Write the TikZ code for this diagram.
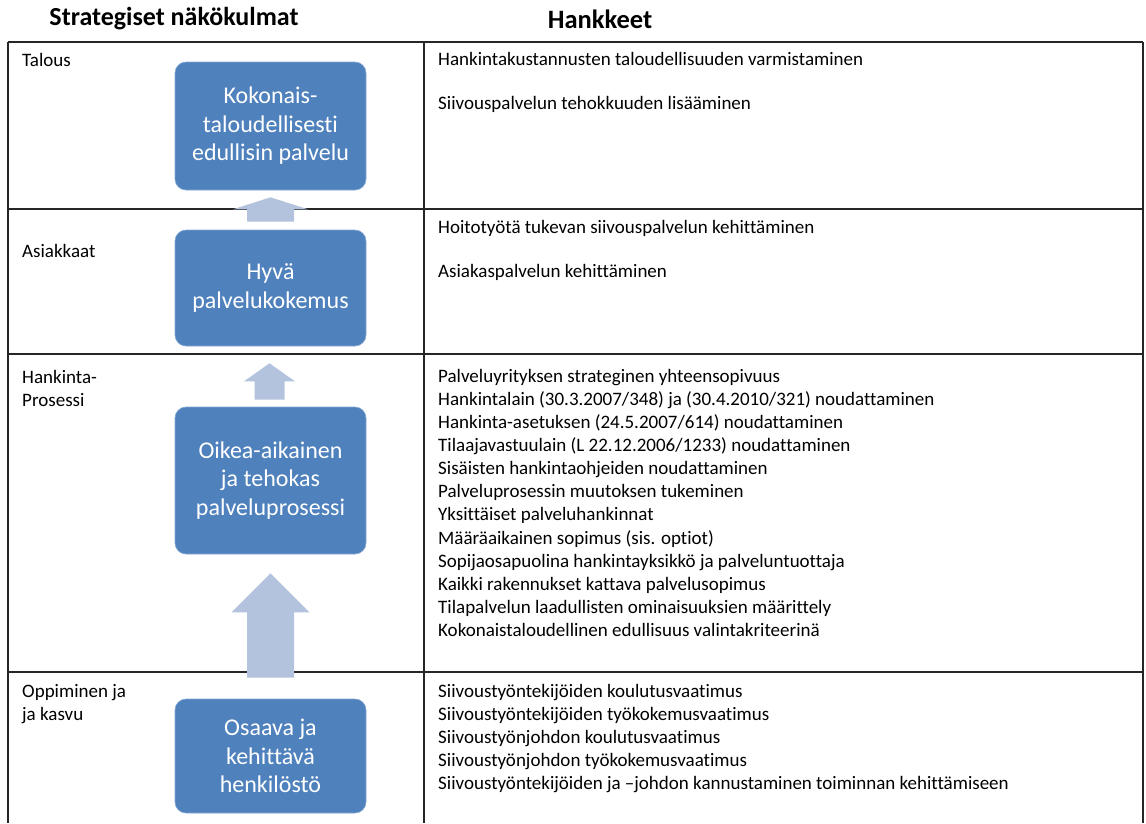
\documentclass[tikz,border=0pt]{standalone}
\usepackage{fontspec}
\setmainfont{Carlito}[Ligatures={NoCommon}]
\usetikzlibrary{calc}
\definecolor{boxblue}{HTML}{4F81BD}
\definecolor{liftblue}{HTML}{B3C3DD}

% upward block arrow: tip coordinate, bottom coordinate, head length, half head width, half shaft width
\newcommand\liftarrow[5]{%
  \fill[liftblue] let \p1=(#1), \p2=(#2) in
    (\x1,\y1) -- (\x1+#4pt,\y1-#3pt) -- (\x1+#5pt,\y1-#3pt) -- (\x1+#5pt,\y2)
    -- (\x1-#5pt,\y2) -- (\x1-#5pt,\y1-#3pt) -- (\x1-#4pt,\y1-#3pt) -- cycle;}

\begin{document}
\begin{tikzpicture}[x=1pt,y=-1pt,
  rule/.style={line width=1.4pt, black!85},
  heading/.style={font=\fontsize{26}{30}\selectfont\bfseries, inner sep=0pt},
  item/.style={font=\fontsize{19}{23}\selectfont, inner sep=0pt, anchor=base west},
  blockbox/.style={fill=boxblue, draw=boxblue!70!white, line width=0.6pt, rounded corners=11pt,
    minimum width=191pt, text=white, align=center,
    font=\fontsize{24}{28.5}\selectfont, inner sep=0pt}]
\useasboundingbox (0,0) rectangle (1146,823);

% headings
\node[heading] (hl) at (174,19) {Strategiset näkökulmat};
\node[heading, font=\fontsize{26.5}{30}\selectfont\bfseries] (hr) at (600,19) {Hankkeet};

% table grid
\draw[rule] (8,42) -- (1143,42);
\draw[rule] (8,209) -- (1143,209);
\draw[rule] (8,354) -- (1143,354);
\draw[rule] (8,672) -- (1143,672);
\draw[rule] (8,42) -- (8,823);
\draw[rule] (424,42) -- (424,823);
\draw[rule] (1143,42) -- (1143,823);

% perspective labels
\node[item] (l1) at (22,66) {Talous};
\node[item] (l2) at (22,257) {Asiakkaat};
\node[item] (l3a) at (22,383) {Hankinta-};
\node[item] (l3b) at (22,406) {Prosessi};
\node[item] (l4a) at (22,697) {Oppiminen ja};
\node[item] (l4b) at (22,720) {ja kasvu};

% strategy blocks
\node[blockbox, minimum height=128pt] (b1) at (270.5,126) {Kokonais-\\taloudellisesti\\edullisin palvelu};
\node[blockbox, minimum height=116pt] (b2) at (270.5,288) {Hyvä\\palvelukokemus};
\node[blockbox, minimum height=147pt] (b3) at (270.5,480.5) {Oikea-aikainen\\ja tehokas\\palveluprosessi};
\node[blockbox, minimum height=114pt] (b4) at (270.5,756) {Osaava ja\\kehittävä\\henkilöstö};

% arrows between blocks
\liftarrow{$(b1.south)+(0,7)$}{$(b2.north)+(0,-8)$}{12}{37.5}{23.5}
\liftarrow{$(b2.south)+(-1,17)$}{$(b3.north)+(-1,-7)$}{18}{25.5}{15}
\liftarrow{$(b3.south)+(0,19)$}{$(b4.north)+(0,-21)$}{39}{39}{23.5}

% projects
\node[item] (t1) at (438,65) {Hankintakustannusten taloudellisuuden varmistaminen};
\node[item] (t2) at (438,109) {Siivouspalvelun tehokkuuden lisääminen};
\node[item] (a1) at (438,233) {Hoitotyötä tukevan siivouspalvelun kehittäminen};
\node[item] (a2) at (438,277) {Asiakaspalvelun kehittäminen};
\foreach \t [count=\i] in {
  {Palveluyrityksen strateginen yhteensopivuus},
  {Hankintalain (30.3.2007/348) ja (30.4.2010/321) noudattaminen},
  {Hankinta-asetuksen (24.5.2007/614) noudattaminen},
  {Tilaajavastuulain (L 22.12.2006/1233) noudattaminen},
  {Sisäisten hankintaohjeiden noudattaminen},
  {Palveluprosessin muutoksen tukeminen},
  {Yksittäiset palveluhankinnat},
  {Määräaikainen sopimus (sis. optiot)},
  {Sopijaosapuolina hankintayksikkö ja palveluntuottaja},
  {Kaikki rakennukset kattava palvelusopimus},
  {Tilapalvelun laadullisten ominaisuuksien määrittely},
  {Kokonaistaloudellinen edullisuus valintakriteerinä}}
  \node[item] (p\i) at (438,{382+23.15*(\i-1)}) {\t};
\foreach \t [count=\i] in {
  {Siivoustyöntekijöiden koulutusvaatimus},
  {Siivoustyöntekijöiden työkokemusvaatimus},
  {Siivoustyönjohdon koulutusvaatimus},
  {Siivoustyönjohdon työkokemusvaatimus},
  {Siivoustyöntekijöiden ja –johdon kannustaminen toiminnan kehittämiseen}}
  \node[item] (o\i) at (438,{697+23.1*(\i-1)}) {\t};
\end{tikzpicture}
\end{document}
